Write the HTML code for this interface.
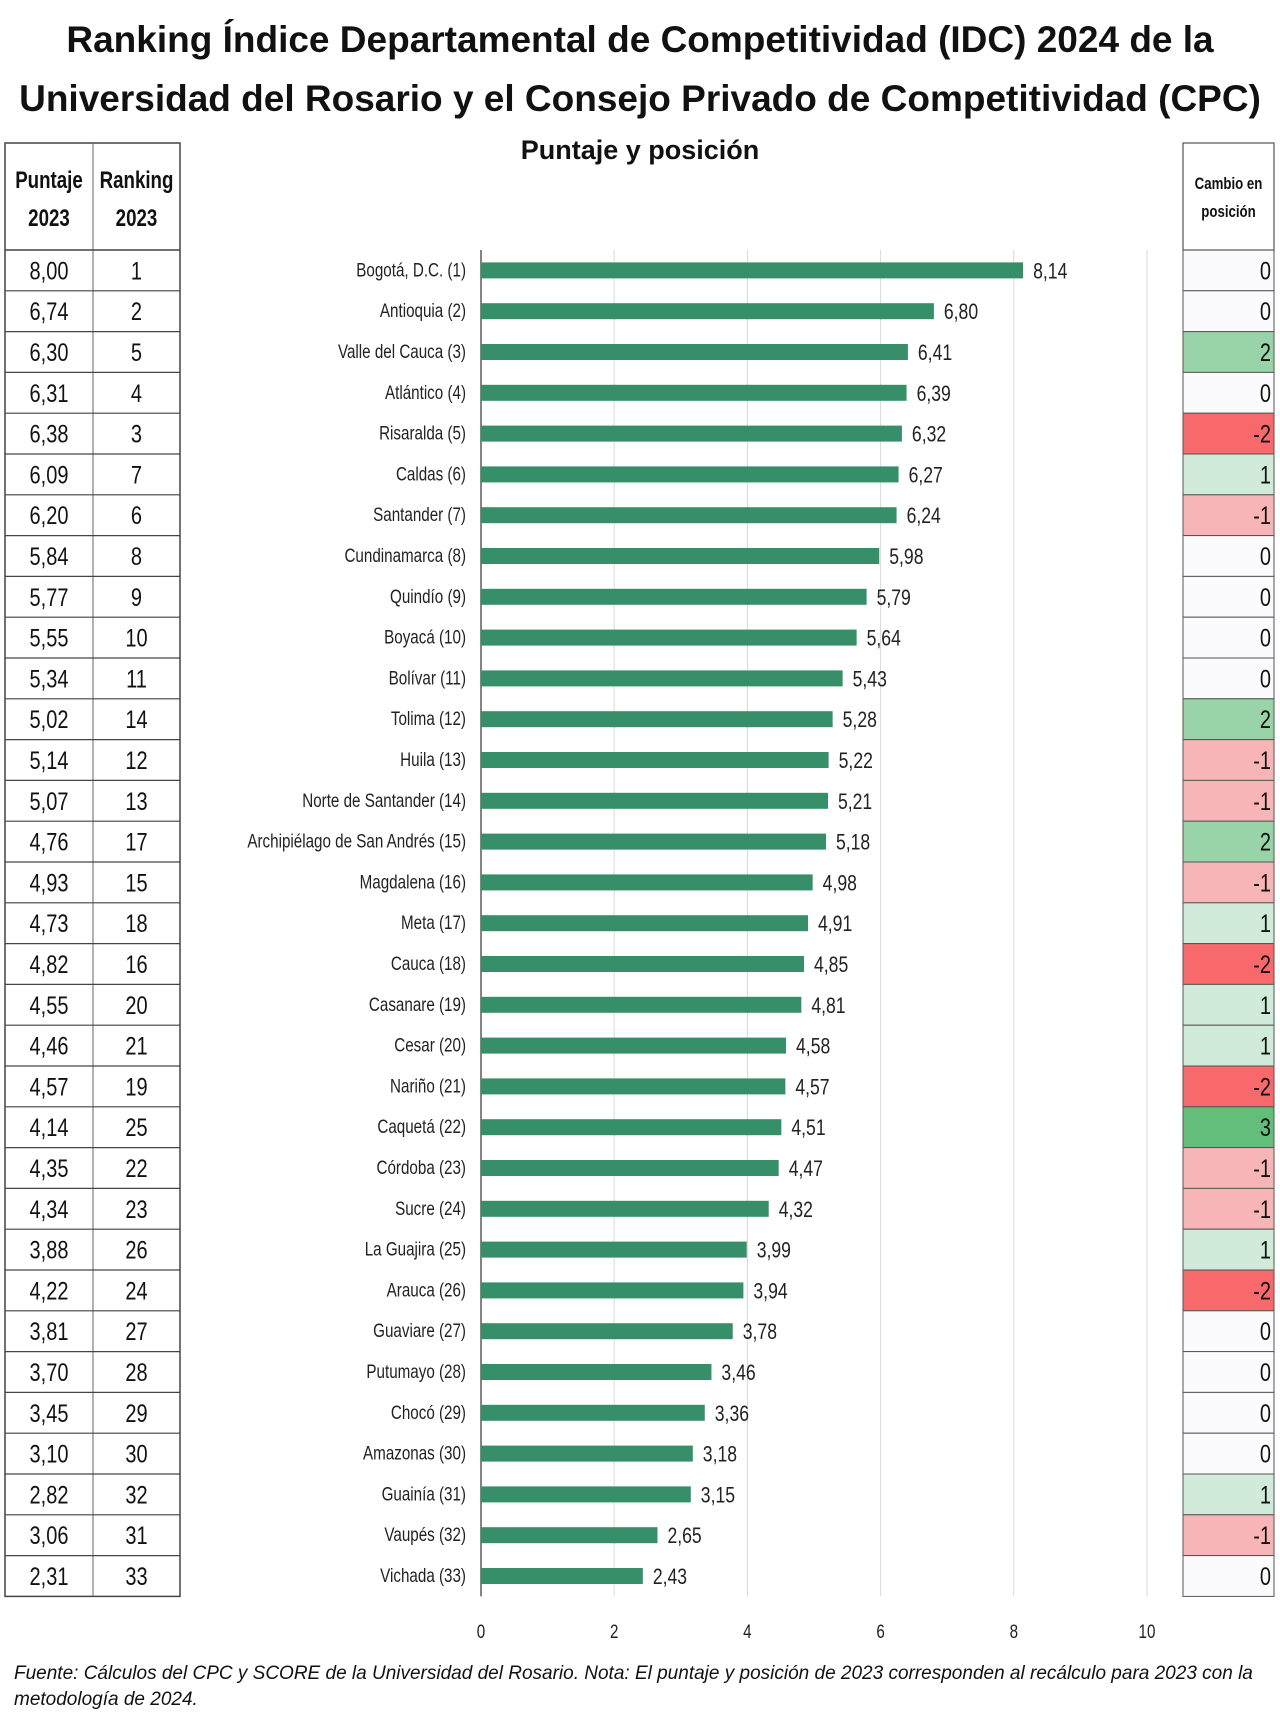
<!DOCTYPE html>
<html><head><meta charset="utf-8"><style>
html,body{margin:0;padding:0;background:#fff;}
svg{display:block;font-family:"Liberation Sans Narrow","Liberation Sans",sans-serif;}
</style></head><body>
<svg id="c" width="1280" height="1725" viewBox="0 0 1280 1725">
<text x="640" y="52" text-anchor="middle" font-size="37" font-weight="bold" font-family="Liberation Sans, sans-serif" fill="#111">Ranking Índice Departamental de Competitividad (IDC) 2024 de la</text>
<text x="640" y="111" text-anchor="middle" font-size="37" font-weight="bold" font-family="Liberation Sans, sans-serif" fill="#111">Universidad del Rosario y el Consejo Privado de Competitividad (CPC)</text>
<text x="640" y="159" text-anchor="middle" font-size="27" font-weight="bold" font-family="Liberation Sans, sans-serif" fill="#111">Puntaje y posición</text>
<g id="left"></g>
<g id="grid"></g>
<g id="bars"></g>
<g id="right"></g>
<text x="14" y="1679" font-size="19" font-style="italic" fill="#111">Fuente: Cálculos del CPC y SCORE de la Universidad del Rosario. Nota: El puntaje y posición de 2023 corresponden al recálculo para 2023 con la</text>
<text x="14" y="1705" font-size="19" font-style="italic" fill="#111">metodología de 2024.</text>
</svg>
<script>
const categories=["Bogotá, D.C. (1)","Antioquia (2)","Valle del Cauca (3)","Atlántico (4)","Risaralda (5)","Caldas (6)","Santander (7)","Cundinamarca (8)","Quindío (9)","Boyacá (10)","Bolívar (11)","Tolima (12)","Huila (13)","Norte de Santander (14)","Archipiélago de San Andrés (15)","Magdalena (16)","Meta (17)","Cauca (18)","Casanare (19)","Cesar (20)","Nariño (21)","Caquetá (22)","Córdoba (23)","Sucre (24)","La Guajira (25)","Arauca (26)","Guaviare (27)","Putumayo (28)","Chocó (29)","Amazonas (30)","Guainía (31)","Vaupés (32)","Vichada (33)"];
const scores2024=[8.14,6.80,6.41,6.39,6.32,6.27,6.24,5.98,5.79,5.64,5.43,5.28,5.22,5.21,5.18,4.98,4.91,4.85,4.81,4.58,4.57,4.51,4.47,4.32,3.99,3.94,3.78,3.46,3.36,3.18,3.15,2.65,2.43];
const scores2023=[8.00,6.74,6.30,6.31,6.38,6.09,6.20,5.84,5.77,5.55,5.34,5.02,5.14,5.07,4.76,4.93,4.73,4.82,4.55,4.46,4.57,4.14,4.35,4.34,3.88,4.22,3.81,3.70,3.45,3.10,2.82,3.06,2.31];
const ranks2023=[1,2,5,4,3,7,6,8,9,10,11,14,12,13,17,15,18,16,20,21,19,25,22,23,26,24,27,28,29,30,32,31,33];
const changes=[0,0,2,0,-2,1,-1,0,0,0,0,2,-1,-1,2,-1,1,-2,1,1,-2,3,-1,-1,1,-2,0,0,0,0,1,-1,0];
const xTicks=[0,2,4,6,8,10];

const NS="http://www.w3.org/2000/svg";
const x0=481,unit=66.6,top0=250,rowH=40.8,n=categories.length;
const bottom=top0+rowH*n;
const X=v=>x0+v*unit;
const Y=i=>top0+rowH*i+rowH/2;
const fmt=v=>v.toFixed(2).replace('.',',');
function mk(tag,attrs,parent,txt){const e=document.createElementNS(NS,tag);for(const k in attrs)e.setAttribute(k,attrs[k]);if(txt!==undefined)e.textContent=txt;parent.appendChild(e);return e;}
function nt(x,y,sx,attrs,parent,txt){attrs.transform='translate('+x+','+y+') scale('+sx+',1)';attrs.x=0;attrs.y=0;return mk('text',attrs,parent,txt);}
const L=document.getElementById('left'),G=document.getElementById('grid'),B=document.getElementById('bars'),R=document.getElementById('right');

xTicks.forEach(t=>{
  if(t>0){const l=mk('line',{x1:X(t),x2:X(t),y1:top0,y2:bottom,stroke:'#d9d9d9','stroke-width':1},G);
  
  }
  const tx=nt(X(t),1638,0.8,{'text-anchor':'middle','font-size':19,fill:'#222'},G,String(t));
  
  
});
const ax=mk('line',{x1:x0,x2:x0,y1:top0,y2:bottom,stroke:'#333','stroke-width':1.2},G);



const lx=5,lm=93,lr=180,ht=143;
mk('rect',{x:lx,y:ht,width:lr-lx,height:bottom-ht,fill:'none',stroke:'#444','stroke-width':1.5},L);
mk('line',{x1:lm,x2:lm,y1:ht,y2:bottom,stroke:'#666','stroke-width':1},L);
mk('line',{x1:lx,x2:lr,y1:top0,y2:top0,stroke:'#444','stroke-width':1.5},L);
[['Puntaje',lx+44,188],['2023',lx+44,226],['Ranking',lm+43.5,188],['2023',lm+43.5,226]].forEach(a=>{
  const t=nt(a[1],a[2],0.78,{'text-anchor':'middle','font-size':24,'font-weight':'bold',fill:'#111'},L,a[0]);
  
  
});
for(let i=0;i<n;i++){
  if(i>0)mk('line',{x1:lx,x2:lr,y1:top0+rowH*i,y2:top0+rowH*i,stroke:'#444','stroke-width':1.2},L);
  const a=nt((lx+lm)/2,Y(i)+9,0.8,{'text-anchor':'middle','font-size':25,fill:'#111'},L,fmt(scores2023[i]));
  
  
  const b=nt((lm+lr)/2,Y(i)+9,0.8,{'text-anchor':'middle','font-size':25,fill:'#111'},L,String(ranks2023[i]));
  
  
}

for(let i=0;i<n;i++){
  const r=mk('rect',{x:x0,y:Y(i)-8,width:X(scores2024[i])-x0,height:16,fill:'#368f68'},B);
  
  
  const c=nt(x0-15,Y(i)+6,0.8,{'text-anchor':'end','font-size':19,fill:'#222'},B,categories[i]);
  
  
  const v=nt(X(scores2024[i])+10,Y(i)+8,0.8,{'font-size':22,fill:'#222'},B,fmt(scores2024[i]));
  
  
}

const rx=1183,rr=1274;
const col=c=>c>=3?'#63be7b':c==2?'#98d4a8':c==1?'#d0ebd9':c==-1?'#f8b5b7':c<=-2?'#f8696b':'#fbfbfe';
for(let i=0;i<n;i++){
  const cell=mk('rect',{x:rx,y:top0+rowH*i,width:rr-rx,height:rowH,fill:col(changes[i]),stroke:'#555','stroke-width':1},R);
  
  
  const t=nt(rr-3,Y(i)+9,0.8,{'text-anchor':'end','font-size':25,fill:'#111'},R,String(changes[i]));
  
  
}
mk('rect',{x:rx,y:ht,width:rr-rx,height:top0-ht,fill:'#fff',stroke:'#555','stroke-width':1.2},R);
[['Cambio en',189],['posición',217]].forEach(a=>{
  const t=nt((rx+rr)/2,a[1],0.78,{'text-anchor':'middle','font-size':17,'font-weight':'bold',fill:'#111'},R,a[0]);
  
  
});
</script>
</body></html>
